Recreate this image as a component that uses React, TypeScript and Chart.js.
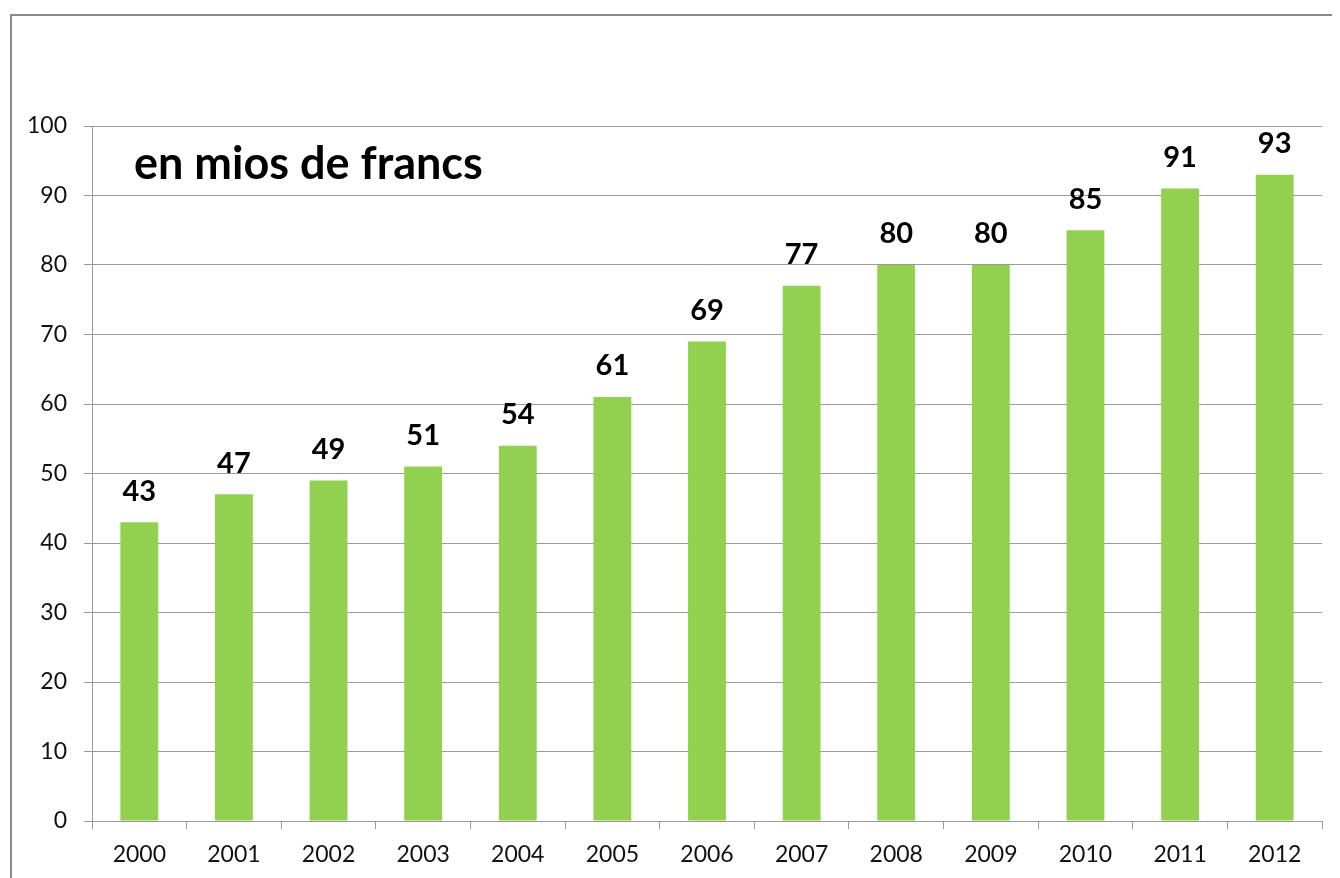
import React, { useEffect, useRef } from "react";
import { Chart, registerables } from "chart.js";

Chart.register(...registerables);

const years = ["2000", "2001", "2002", "2003", "2004", "2005", "2006", "2007", "2008", "2009", "2010", "2011", "2012"];
const amounts = [43, 47, 49, 51, 54, 61, 69, 77, 80, 80, 85, 91, 93];
const chartTitle = "en mios de francs";

const barColor = "#92D050";
const gridColor = "#9a9a9a";
const textColor = "#111111";
const fontFamily = "Lato, 'Open Sans', sans-serif";

const labelPlugin = {
  id: "valueLabels",
  afterDatasetsDraw(chart: any) {
    const { ctx } = chart;
    const meta = chart.getDatasetMeta(0);
    ctx.save();
    ctx.font = `bold 29px ${fontFamily}`;
    ctx.fillStyle = "#000";
    ctx.textAlign = "center";
    ctx.textBaseline = "middle";
    meta.data.forEach((bar: any, i: number) => {
      ctx.fillText(String(chart.data.datasets[0].data[i]), bar.x, bar.y - 31);
    });
    ctx.restore();
  },
};

const titlePlugin = {
  id: "innerTitle",
  afterDraw(chart: any) {
    const { ctx, chartArea } = chart;
    ctx.save();
    ctx.font = `bold 45px ${fontFamily}`;
    ctx.fillStyle = "#000";
    ctx.textAlign = "left";
    ctx.textBaseline = "alphabetic";
    ctx.fillText(chartTitle, chartArea.left + 42, chartArea.top + 53);
    ctx.restore();
  },
};

export default function App() {
  const canvasRef = useRef<HTMLCanvasElement | null>(null);

  useEffect(() => {
    document.body.style.overflow = "hidden";
    const chart = new Chart(canvasRef.current as HTMLCanvasElement, {
      type: "bar",
      data: {
        labels: years,
        datasets: [
          {
            data: amounts,
            backgroundColor: barColor,
            borderWidth: 0,
            barPercentage: 0.4,
            categoryPercentage: 1,
          },
        ],
      },
      options: {
        animation: false,
        responsive: false,
        layout: { padding: { top: 110, right: 18, left: 0, bottom: 0 } },
        plugins: {
          legend: { display: false },
          tooltip: { enabled: false },
          title: { display: false },
        },
        scales: {
          x: {
            offset: true,
            grid: {
              offset: true,
              drawOnChartArea: false,
              drawTicks: true,
              tickLength: 8,
              color: gridColor,
            },
            border: { color: gridColor, width: 1 },
            ticks: {
              color: textColor,
              font: { family: fontFamily, size: 23 },
              padding: 12,
              maxRotation: 0,
            },
            afterFit: (scale: any) => {
              scale.height = 57;
            },
          },
          y: {
            min: 0,
            max: 100,
            ticks: {
              stepSize: 10,
              color: textColor,
              font: { family: fontFamily, size: 23 },
              padding: 17,
            },
            grid: { color: gridColor, tickLength: 8, drawTicks: true },
            border: { color: gridColor, width: 1 },
            afterFit: (scale: any) => {
              scale.width = 80;
            },
          },
        },
      },
      plugins: [labelPlugin, titlePlugin],
    });
    return () => chart.destroy();
  }, []);

  return (
    <div
      style={{
        marginLeft: 2,
        marginTop: 6,
        width: 1330,
        height: 864,
        borderLeft: "2px solid #8a8a8a",
        borderTop: "2px solid #8a8a8a",
        boxSizing: "border-box",
        background: "#fff",
        overflow: "hidden",
      }}
    >
      <canvas ref={canvasRef} width={1328} height={862} style={{ display: "block" }} />
    </div>
  );
}
